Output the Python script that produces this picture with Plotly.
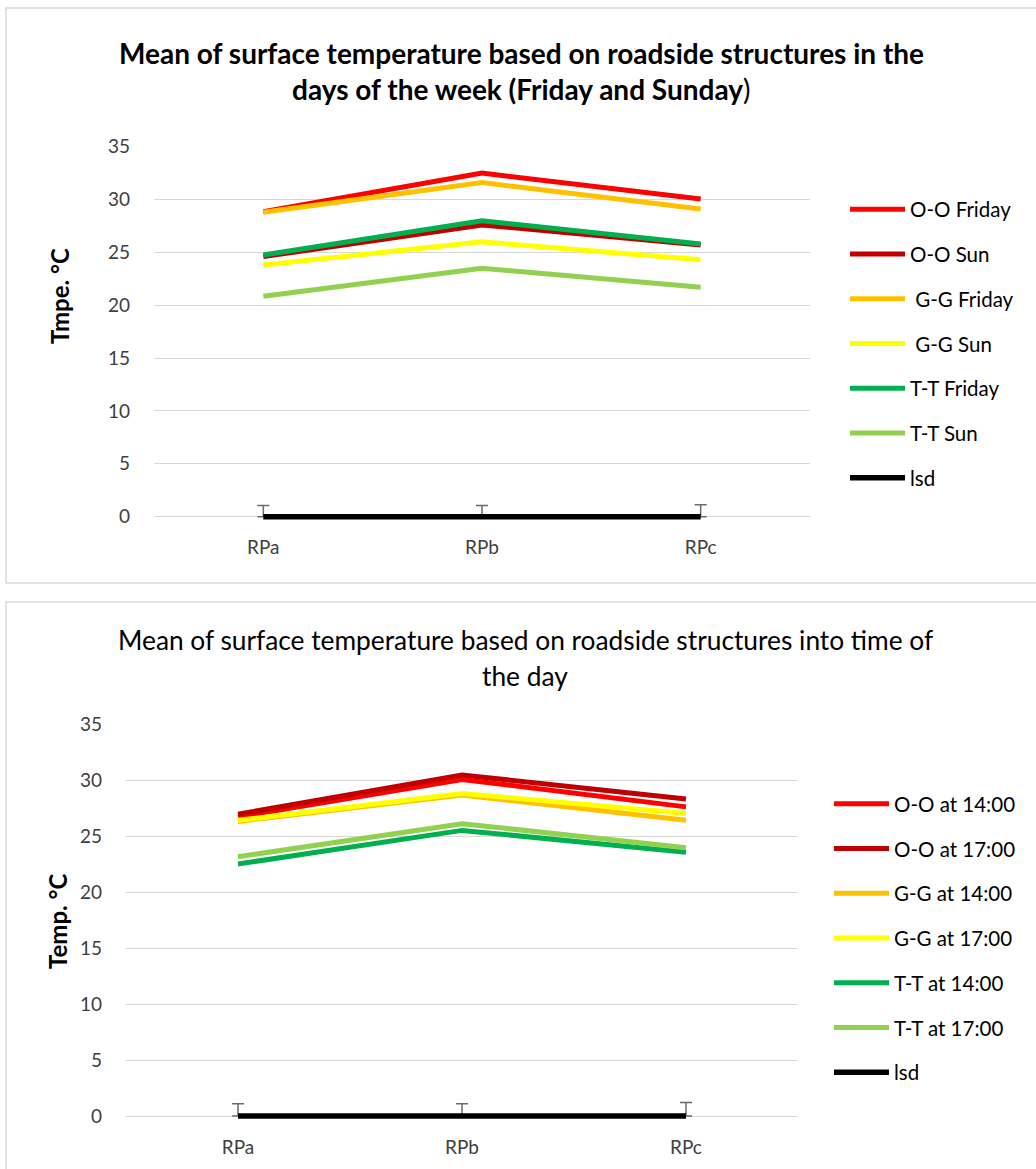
import plotly.graph_objects as go

W, H = 1036, 1169

categories = ["RPa", "RPb", "RPc"]

# Top chart: days of the week
top_names = ["O-O Friday", "O-O Sun", " G-G Friday", " G-G Sun", "T-T Friday", "T-T Sun"]
oo_fri = [28.85, 32.5, 30.05]
oo_sun = [24.6, 27.6, 25.7]
gg_fri = [28.8, 31.6, 29.1]
gg_sun = [23.8, 26.0, 24.3]
tt_fri = [24.75, 28.0, 25.8]
tt_sun = [20.85, 23.5, 21.7]
lsd_top = [0, 0, 0]
lsd_err_top = [1.07, 1.07, 1.14]

# Bottom chart: time of the day
bot_names = ["O-O at 14:00", "O-O at 17:00", "G-G at 14:00", "G-G at 17:00", "T-T at 14:00", "T-T at 17:00"]
oo_14 = [26.7, 30.05, 27.6]
oo_17 = [26.95, 30.45, 28.3]
gg_14 = [26.3, 28.65, 26.4]
gg_17 = [26.4, 28.8, 27.0]
tt_14 = [22.5, 25.5, 23.55]
tt_17 = [23.15, 26.1, 23.95]
lsd_bot = [0, 0, 0]
lsd_err_bot = [1.1, 1.1, 1.2]

y_ticks = [0, 5, 10, 15, 20, 25, 30, 35]

colors = ["#FF0000", "#C00000", "#FFC000", "#FFFF00", "#00B050", "#92D050"]
FONT = "Lato"
LW = 5


def px(x):
    return x / W


def py(y):
    return 1 - y / H


fig = go.Figure()

top_series = [oo_fri, oo_sun, gg_fri, gg_sun, tt_fri, tt_sun]
for i, (name, vals) in enumerate(zip(top_names, top_series)):
    fig.add_trace(go.Scatter(x=categories, y=vals, name=name, mode="lines",
                             line=dict(color=colors[i], width=LW),
                             xaxis="x", yaxis="y", legend="legend",
                             legendgroup="t%d" % i))
fig.add_trace(go.Scatter(x=categories, y=lsd_top, name="lsd", mode="lines",
                         line=dict(color="#000000", width=5.5),
                         error_y=dict(type="data", array=lsd_err_top, symmetric=False,
                                      arrayminus=[0, 0, 0], color="#6b6b6b",
                                      thickness=1.5, width=6),
                         xaxis="x", yaxis="y", legend="legend", legendgroup="t6"))

bot_series = [oo_14, oo_17, gg_14, gg_17, tt_14, tt_17]
for i, (name, vals) in enumerate(zip(bot_names, bot_series)):
    fig.add_trace(go.Scatter(x=categories, y=vals, name=name, mode="lines",
                             line=dict(color=colors[i], width=LW),
                             xaxis="x2", yaxis="y2", legend="legend2",
                             legendgroup="b%d" % i))
fig.add_trace(go.Scatter(x=categories, y=lsd_bot, name="lsd", mode="lines",
                         line=dict(color="#000000", width=5.5),
                         error_y=dict(type="data", array=lsd_err_bot, symmetric=False,
                                      arrayminus=[0, 0, 0], color="#6b6b6b",
                                      thickness=1.5, width=6),
                         xaxis="x2", yaxis="y2", legend="legend2", legendgroup="b6"))

tick_font = dict(family=FONT, size=19, color="#404040")
ymin = -0.6

yax_common = dict(range=[ymin, 35], tickvals=y_ticks, showgrid=True, gridcolor="#d9d9d9",
                  gridwidth=1.2, zeroline=False, showline=False, ticks="",
                  tickfont=tick_font, ticklabelstandoff=23, fixedrange=True,
                  automargin=False)
xax_common = dict(type="category", range=[-0.5, 2.5], showgrid=False, zeroline=False,
                  showline=False, ticks="", tickfont=tick_font, ticklabelstandoff=11,
                  fixedrange=True, automargin=False)

# top plot: 0 at y=516.7, 35 at y=146.7
t_scale = (516.7 - 146.7) / 35
t_bottom = 516.7 - ymin * t_scale
# bottom plot: 0 at y=1116, 35 at 724
b_scale = (1116 - 724) / 35
b_bottom = 1116 - ymin * b_scale

legend_common = dict(font=dict(family=FONT, size=20.5, color="#000000"),
                     bgcolor="rgba(0,0,0,0)", tracegroupgap=15.1, itemwidth=55,
                     xanchor="left", yanchor="top", itemclick=False, itemdoubleclick=False)

title_font_b = dict(family=FONT, size=28, color="#000000")
title_font_r = dict(family=FONT, size=26.3, color="#000000")
ytitle_font = dict(family=FONT, size=24, color="#000000")

fig.update_layout(
    width=W, height=H, autosize=False,
    margin=dict(l=0, r=0, t=0, b=0, pad=0, autoexpand=False),
    paper_bgcolor="white", plot_bgcolor="white",
    showlegend=True,
    xaxis=dict(domain=[px(154), px(810)], anchor="y", **xax_common),
    yaxis=dict(domain=[py(t_bottom), py(146.7)], anchor="x", **yax_common),
    xaxis2=dict(domain=[px(126), px(798)], anchor="y2", **xax_common),
    yaxis2=dict(domain=[py(b_bottom), py(724)], anchor="x2", **yax_common),
    legend=dict(x=px(845), y=py(189.5), **legend_common),
    legend2=dict(x=px(829), y=py(784), **legend_common),
    shapes=[
        dict(type="rect", xref="paper", yref="paper", x0=px(6), x1=px(1045),
             y0=py(583), y1=py(8), line=dict(color="#d9d9d9", width=1.5), layer="below"),
        dict(type="rect", xref="paper", yref="paper", x0=px(6), x1=px(1045),
             y0=py(1180), y1=py(602), line=dict(color="#d9d9d9", width=1.5), layer="below"),
    ],
    annotations=[
        dict(text="<b>Mean of surface temperature based on roadside structures in the</b>",
             x=px(521), y=py(53), xref="paper", yref="paper", showarrow=False,
             xanchor="center", yanchor="middle", font=title_font_b),
        dict(text="<b>days of the week (Friday and Sunday</b>)",
             x=px(521), y=py(89), xref="paper", yref="paper", showarrow=False,
             xanchor="center", yanchor="middle", font=title_font_b),
        dict(text="Mean of surface temperature based on roadside structures into time of",
             x=px(525), y=py(640), xref="paper", yref="paper", showarrow=False,
             xanchor="center", yanchor="middle", font=title_font_r),
        dict(text="the day",
             x=px(525), y=py(676), xref="paper", yref="paper", showarrow=False,
             xanchor="center", yanchor="middle", font=title_font_r),
        dict(text="<b>Tmpe. °C</b>", textangle=-90,
             x=px(60), y=py(296), xref="paper", yref="paper", showarrow=False,
             xanchor="center", yanchor="middle", font=ytitle_font),
        dict(text="<b>Temp. °C</b>", textangle=-90,
             x=px(57), y=py(921), xref="paper", yref="paper", showarrow=False,
             xanchor="center", yanchor="middle", font=ytitle_font),
    ],
)

post = (
    "document.documentElement.style.margin='0';"
    "document.documentElement.style.overflow='hidden';"
    "document.body.style.margin='0';document.body.style.padding='0';"
    "document.body.style.overflow='hidden';"
    "var gd=document.getElementById('{plot_id}');"
    "gd.style.position='absolute';gd.style.left='0px';gd.style.top='0px';"
)

fig.write_html("out.html", config={"displayModeBar": False}, post_script=post)
